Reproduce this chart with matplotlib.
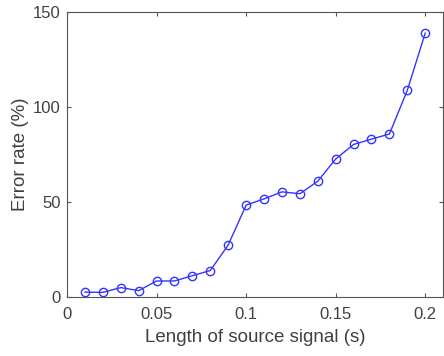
import numpy as np
import matplotlib.pyplot as plt

plt.rcParams['font.family'] = ['Liberation Sans', 'DejaVu Sans']

# Signal length (s) and measured error rate (%)
length_s = [0.01, 0.02, 0.03, 0.04, 0.05, 0.06, 0.07, 0.08, 0.09, 0.10,
            0.11, 0.12, 0.13, 0.14, 0.15, 0.16, 0.17, 0.18, 0.19, 0.20]
error_rate = [2.5, 2.4, 4.9, 3.3, 8.4, 8.4, 11.2, 13.9, 27.4, 48.4,
              51.7, 55.4, 54.4, 61.0, 72.7, 80.4, 83.2, 85.9, 108.9, 139.1]

x_ticks = [0, 0.05, 0.1, 0.15, 0.2]
x_tick_labels = ['0', '0.05', '0.1', '0.15', '0.2']
y_ticks = [0, 50, 100, 150]

fig = plt.figure(figsize=(4.44, 3.56), dpi=100)
ax = fig.add_axes([0.151, 0.166, 0.847, 0.799])

ax.plot(length_s, error_rate, color='#3434ff', linewidth=1.0,
        marker='o', markersize=6, markerfacecolor='none',
        markeredgecolor='#3434ff', markeredgewidth=1.0)

ax.set_xlim(0, 0.21)
ax.set_ylim(0, 150)
ax.set_xticks(x_ticks)
ax.set_xticklabels(x_tick_labels)
ax.set_yticks(y_ticks)

txt = '#404040'
for s in ax.spines.values():
    s.set_color('#555555')
    s.set_linewidth(0.8)
ax.tick_params(direction='in', top=True, right=True, length=3,
               color='#555555', labelcolor=txt, labelsize=12)
ax.tick_params(axis='x', pad=7)
ax.tick_params(axis='y', pad=4.5)
ax.set_xlabel('Length of source signal (s)', fontsize=13.5, color=txt, labelpad=5)
ax.set_ylabel('Error rate (%)', fontsize=13.5, color=txt, labelpad=3)

fig.savefig('out.png', dpi=100)
